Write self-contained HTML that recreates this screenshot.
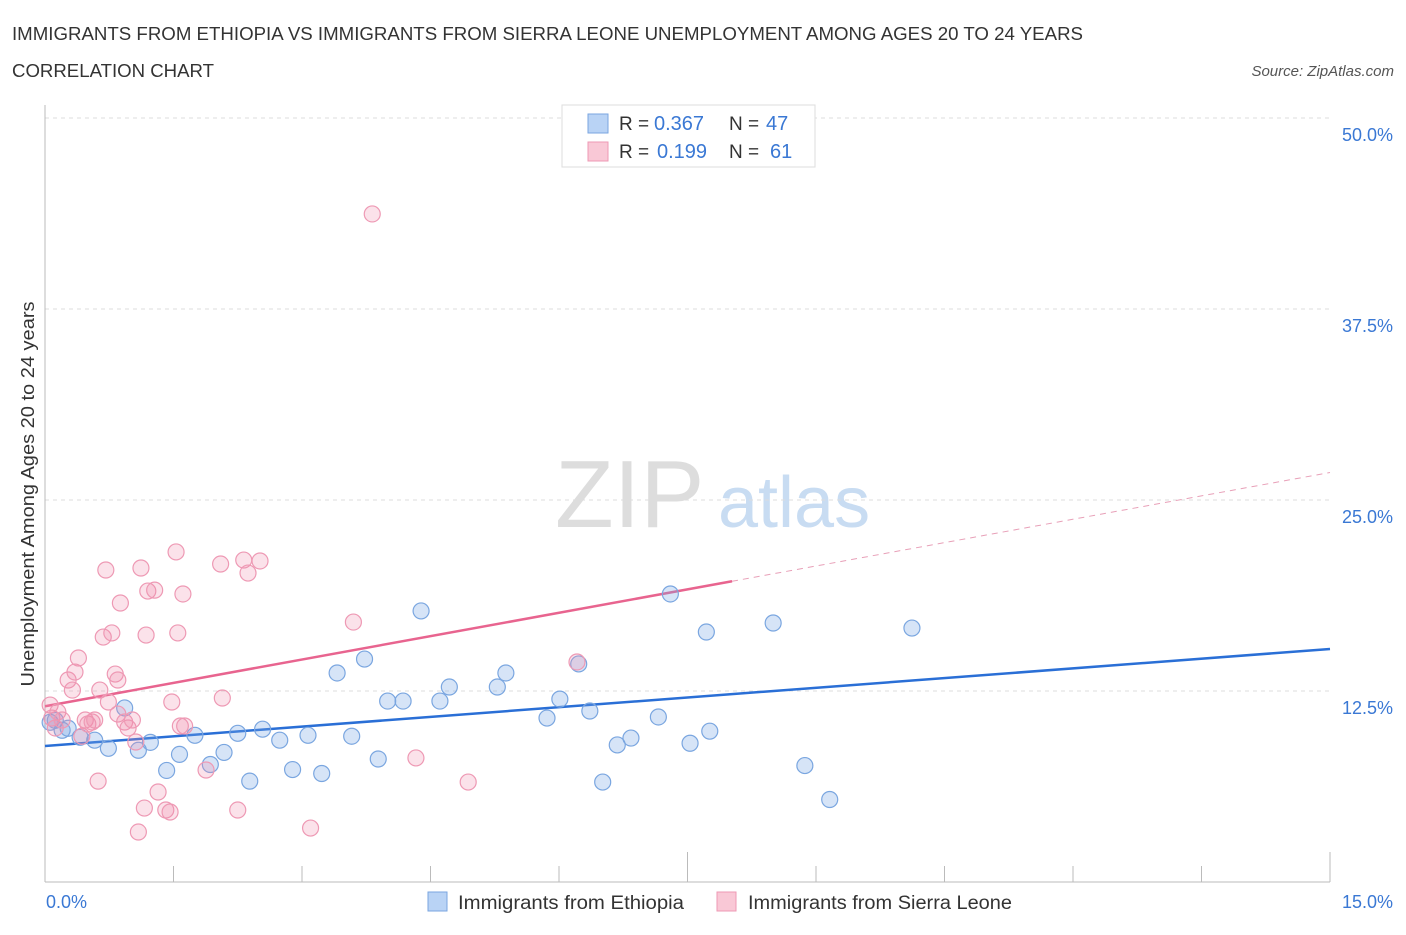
<!DOCTYPE html>
<html><head><meta charset="utf-8"><style>
body{margin:0;background:#fff;font-family:"Liberation Sans",sans-serif;}
svg text{font-family:"Liberation Sans",sans-serif;}
</style></head><body>
<svg width="1406" height="930" id="chart">
<text x="12" y="40" font-size="18" fill="#333" textLength="1071" lengthAdjust="spacingAndGlyphs">IMMIGRANTS FROM ETHIOPIA VS IMMIGRANTS FROM SIERRA LEONE UNEMPLOYMENT AMONG AGES 20 TO 24 YEARS</text>
<text x="12" y="77" font-size="18" fill="#333" textLength="202" lengthAdjust="spacingAndGlyphs">CORRELATION CHART</text>
<text x="1394" y="76" font-size="15" fill="#555" font-style="italic" text-anchor="end">Source: ZipAtlas.com</text>
<text x="555" y="527" font-size="96" fill="#ddd" font-family="Liberation Serif">ZIP</text>
<text x="718" y="527" font-size="72" fill="#c8dcf2">atlas</text>
<text transform="translate(34,494) rotate(-90)" font-size="18" fill="#333" text-anchor="middle" textLength="385" lengthAdjust="spacingAndGlyphs">Unemployment Among Ages 20 to 24 years</text>
<g id="grid"></g><g id="axes"></g><g id="lines"></g><g id="pts"></g>
<g>
<rect x="562" y="105" width="253" height="62" fill="#fff" stroke="#ddd"/>
<rect x="588" y="114" width="20" height="19" fill="#b9d3f5" stroke="#7aa6e0"/>
<rect x="588" y="142" width="20" height="19" fill="#f9c8d6" stroke="#ee99b4"/>
<text x="619" y="130" font-size="19" fill="#333">R =</text>
<text x="654" y="130" font-size="20" fill="#3a78d4">0.367</text>
<text x="729" y="130" font-size="19" fill="#333">N =</text>
<text x="766" y="130" font-size="20" fill="#3a78d4">47</text>
<text x="619" y="158" font-size="19" fill="#333">R =</text>
<text x="657" y="158" font-size="20" fill="#3a78d4">0.199</text>
<text x="729" y="158" font-size="19" fill="#333">N =</text>
<text x="770" y="158" font-size="20" fill="#3a78d4">61</text>
</g>
<g>
<rect x="428" y="892" width="19" height="19" fill="#b9d3f5" stroke="#7aa6e0"/>
<text x="458" y="909" font-size="19" fill="#333" textLength="226" lengthAdjust="spacingAndGlyphs">Immigrants from Ethiopia</text>
<rect x="717" y="892" width="19" height="19" fill="#f9c8d6" stroke="#ee99b4"/>
<text x="748" y="909" font-size="19" fill="#333" textLength="264" lengthAdjust="spacingAndGlyphs">Immigrants from Sierra Leone</text>
</g>
</svg>
<script>
const yTicks=[12.5,25,37.5,50];
const yTickLabels=["12.5%","25.0%","37.5%","50.0%"];
const xTickLabels=["0.0%","15.0%"];
const ethX=[0.06,0.12,0.2,0.27,0.41,0.58,0.74,0.93,1.09,1.23,1.42,1.57,1.75,1.93,2.09,2.25,2.39,2.54,2.74,2.89,3.07,3.23,3.41,3.58,3.73,3.89,4.0,4.18,4.39,4.61,4.72,5.28,5.38,5.86,6.01,6.23,6.36,6.51,6.68,6.84,7.16,7.3,7.53,7.72,7.76,8.5,8.87,9.16,10.12];
const ethY=[10.45,10.58,9.93,10.06,9.47,9.28,8.75,11.39,8.62,9.14,7.3,8.35,9.6,7.69,8.48,9.73,6.6,10.0,9.28,7.36,9.6,7.1,13.68,9.54,14.59,8.05,11.84,11.84,17.74,11.84,12.76,12.76,13.68,10.73,11.97,14.27,11.19,6.54,8.97,9.42,10.8,18.85,9.08,16.36,9.87,16.95,7.62,5.4,16.62];
const sleX=[0.06,0.08,0.12,0.15,0.2,0.27,0.32,0.35,0.39,0.43,0.47,0.5,0.55,0.58,0.62,0.64,0.68,0.71,0.74,0.78,0.82,0.85,0.88,0.85,0.93,0.97,1.02,1.06,1.09,1.12,1.16,1.18,1.2,1.28,1.32,1.41,1.46,1.48,1.53,1.55,1.58,1.61,1.63,1.88,2.05,2.07,2.25,2.32,2.37,2.51,3.1,3.6,3.82,4.33,4.94,6.21];
const sleY=[11.58,10.73,10.08,11.13,10.6,13.22,12.56,13.74,14.66,9.54,10.6,10.34,10.47,10.6,6.6,12.56,16.03,20.42,11.78,16.3,13.61,13.22,18.26,10.99,10.47,10.08,10.6,9.16,3.27,20.55,4.84,16.16,19.04,19.1,5.89,4.71,4.58,11.78,21.6,16.3,10.21,18.85,10.21,7.33,20.81,12.04,4.71,21.07,20.22,21.01,3.53,17.01,43.72,8.12,6.54,14.4];
const ethLine=[8.9,15.25];
const sleLine=[11.5,26.8];
const X=v=>45+v*(1285/15), Y=v=>882-v*(764/50);
const NS="http://www.w3.org/2000/svg";
function mk(p,t,a){const e=document.createElementNS(NS,t);for(const k in a)e.setAttribute(k,a[k]);document.getElementById(p).appendChild(e);return e;}
yTicks.forEach((v,i)=>{
 const g=mk('grid','line',{x1:45,x2:1330,y1:Y(v),y2:Y(v),stroke:'#ddd','stroke-dasharray':'4,4'});
 
 
 const t=mk('grid','text',{x:1393,y:Y(v)+23,'font-size':18,fill:'#3a78d4','text-anchor':'end'});
 t.textContent=yTickLabels[i];
 
 
});
const ax=mk('axes','line',{x1:45,x2:1330,y1:882,y2:882,stroke:'#bbb'});


const ay=mk('axes','line',{x1:45,x2:45,y1:105,y2:882,stroke:'#bbb'});


for(let i=0;i<=10;i++){const tk=mk('axes','line',{x1:X(i*1.5),x2:X(i*1.5),y1:882,y2:i%5==0?852:866,stroke:'#bbb'});
 
 }
[[0,46,'start'],[1,1393,'end']].forEach(([i,x,a])=>{const t=mk('axes','text',{x:x,y:908,'font-size':18,fill:'#3a78d4','text-anchor':a});t.textContent=xTickLabels[i];
 
 });
function pts(xs,ys,fill,stroke,name){xs.forEach((x,i)=>{const c=mk('pts','circle',{cx:X(x),cy:Y(ys[i]),r:8,fill:fill,stroke:stroke,'stroke-width':1.2});
 
 });}
pts(ethX,ethY,'rgba(120,165,230,0.3)','#7aa6e0','ethiopia-point');
pts(sleX,sleY,'rgba(240,140,170,0.25)','#ee99b4','sierra-leone-point');
const l1=mk('lines','line',{x1:X(0),y1:Y(ethLine[0]),x2:X(15),y2:Y(ethLine[1]),stroke:'#2a6fd6','stroke-width':2.5});


const xe=8.02, ye=sleLine[0]+(sleLine[1]-sleLine[0])*xe/15;
const l2=mk('lines','line',{x1:X(0),y1:Y(sleLine[0]),x2:X(xe),y2:Y(ye),stroke:'#e8648f','stroke-width':2.5});


const l3=mk('lines','line',{x1:X(xe),y1:Y(ye),x2:X(15),y2:Y(sleLine[1]),stroke:'#e8a0b8','stroke-width':1,'stroke-dasharray':'6,5'});


</script>
</body></html>
